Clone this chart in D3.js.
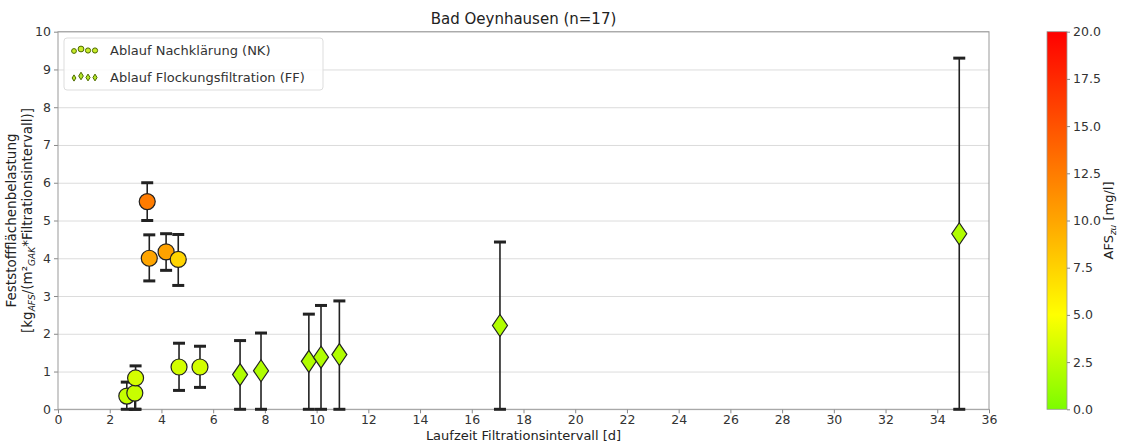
<!DOCTYPE html>
<html>
<head>
<meta charset="utf-8">
<script src="https://cdn.jsdelivr.net/npm/d3@7"></script>
<style>
  body { margin: 0; background: #fff; }
  svg { font-family: "DejaVu Sans", sans-serif; }
</style>
</head>
<body>
<svg id="chart" width="1123" height="442"></svg>
<script>
// Ablauf Nachklärung (NK) - Kreise
const nkX   = [3.45, 3.53, 4.18, 4.65, 4.68, 5.49, 2.66, 2.97, 3.0];
const nkY   = [5.5, 4.0, 4.17, 3.97, 1.12, 1.12, 0.35, 0.43, 0.83];
const nkLo  = [5.0, 3.4, 3.68, 3.28, 0.5, 0.58, 0.0, 0.0, 0.0];
const nkHi  = [6.0, 4.62, 4.65, 4.63, 1.75, 1.67, 0.72, 0.75, 1.15];
const nkAfs = [12.5, 10.0, 10.2, 7.4, 3.3, 3.3, 2.8, 2.9, 3.4];

// Ablauf Flockungsfiltration (FF) - Rauten
const ffX   = [7.04, 7.85, 9.7, 10.17, 10.88, 17.09, 34.85];
const ffY   = [0.92, 1.02, 1.27, 1.38, 1.45, 2.22, 4.65];
const ffLo  = [0, 0, 0, 0, 0, 0, 0];
const ffHi  = [1.82, 2.02, 2.52, 2.75, 2.87, 4.43, 9.3];
const ffAfs = [2.0, 2.0, 2.0, 2.0, 2.0, 2.0, 2.0];

const xTicks  = d3.range(0, 37, 2);
const yTicks  = d3.range(0, 11, 1);
const cbTicks = [0, 2.5, 5, 7.5, 10, 12.5, 15, 17.5, 20];

const svg = d3.select("#chart");
const pLeft = 58, pRight = 989, pTop = 31.7, pBottom = 409.3;

const x = d3.scaleLinear().domain([0, 36]).range([pLeft, pRight]);
const y = d3.scaleLinear().domain([0, 10]).range([pBottom, pTop]);
const color = d3.scaleLinear()
    .domain([0, 5, 10, 20])
    .range(["#7cfc00", "#ffff00", "#ffa500", "#ff0000"]);

// Gitter
svg.append("g")
    .attr("transform", `translate(${pLeft},0)`)
    .call(d3.axisLeft(y).tickValues(yTicks).tickSize(-(pRight - pLeft)).tickFormat(""))
    .call(g => g.selectAll("line").attr("stroke", "#dcdcdc").attr("stroke-width", 1))
    .call(g => g.select(".domain").remove());

// Achsen
const ax = svg.append("g")
    .attr("transform", `translate(0,${pBottom})`)
    .call(d3.axisBottom(x).tickValues(xTicks).tickSize(4).tickPadding(1.5));
const ay = svg.append("g")
    .attr("transform", `translate(${pLeft},0)`)
    .call(d3.axisLeft(y).tickValues(yTicks).tickSize(4).tickPadding(3));
[ax, ay].forEach(a => {
    a.select(".domain").remove();
    a.selectAll("line").attr("stroke", "#888");
    a.selectAll("text").attr("fill", "#333").style("font-size", "12.5px")
        .style("font-family", "DejaVu Sans");
});

// Rahmen
svg.append("rect")
    .attr("x", pLeft).attr("y", pTop)
    .attr("width", pRight - pLeft).attr("height", pBottom - pTop)
    .attr("fill", "none").attr("stroke", "#999").attr("stroke-width", 1);

// Fehlerbalken
function errorBars(xs, los, his) {
    const g = svg.append("g").attr("stroke", "#222");
    xs.forEach((v, i) => {
        g.append("line")
            .attr("x1", x(v)).attr("x2", x(v))
            .attr("y1", y(los[i])).attr("y2", y(his[i]))
            .attr("stroke-width", 1.6);
        [los[i], his[i]].forEach(e => {
            g.append("line")
                .attr("x1", x(v) - 6).attr("x2", x(v) + 6)
                .attr("y1", y(e)).attr("y2", y(e))
                .attr("stroke-width", 3);
        });
    });
}
errorBars(nkX, nkLo, nkHi);
errorBars(ffX, ffLo, ffHi);

// Marker
svg.append("g").selectAll("circle").data(nkX).join("circle")
    .attr("cx", d => x(d))
    .attr("cy", (d, i) => y(nkY[i]))
    .attr("r", 8)
    .attr("fill", (d, i) => color(nkAfs[i]))
    .attr("stroke", "#222").attr("stroke-width", 1.2);

const diamond = (cx, cy, w, h) =>
    `M${cx},${cy - h}L${cx + w},${cy}L${cx},${cy + h}L${cx - w},${cy}Z`;
svg.append("g").selectAll("path").data(ffX).join("path")
    .attr("d", (d, i) => diamond(x(d), y(ffY[i]), 7.5, 11))
    .attr("fill", (d, i) => color(ffAfs[i]))
    .attr("stroke", "#222").attr("stroke-width", 1.2);

// Legende
const lg = svg.append("g");
lg.append("rect")
    .attr("x", 64).attr("y", 38).attr("width", 259).attr("height", 52)
    .attr("rx", 3).attr("fill", "#fff").attr("fill-opacity", 0.85)
    .attr("stroke", "#ddd");
const legItems = [
    { label: "Ablauf Nachklärung (NK)", type: "circle", yy: 50 },
    { label: "Ablauf Flockungsfiltration (FF)", type: "diamond", yy: 77 }
];
const legOffsets = [1, -1, 0.5, 0.5];
const legSizes = [2.4, 2.9, 2.6, 2.6];
legItems.forEach(it => {
    legOffsets.forEach((o, k) => {
        const cx = 74 + k * 7, cy = it.yy + o;
        if (it.type === "circle") {
            lg.append("circle").attr("cx", cx).attr("cy", cy).attr("r", legSizes[k])
                .attr("fill", "#c9ec2a").attr("stroke", "#4d6a00").attr("stroke-width", 1);
        } else {
            lg.append("path").attr("d", diamond(cx, cy, legSizes[k] * 0.8, legSizes[k] * 1.3))
                .attr("fill", "#b4e62a").attr("stroke", "#4d6a00").attr("stroke-width", 1);
        }
    });
    lg.append("text").attr("x", 110).attr("y", it.yy + 4.5)
        .attr("fill", "#333").style("font-size", "13px").text(it.label);
});

// Titel und Achsentitel
svg.append("text").attr("x", (pLeft + pRight) / 2).attr("y", 24)
    .attr("text-anchor", "middle").attr("fill", "#222")
    .style("font-size", "15px").text("Bad Oeynhausen (n=17)");

svg.append("text").attr("x", (pLeft + pRight) / 2).attr("y", 440)
    .attr("text-anchor", "middle").attr("fill", "#222")
    .style("font-size", "13px").text("Laufzeit Filtrationsintervall [d]");

const yl = svg.append("text")
    .attr("transform", `translate(16,${(pTop + pBottom) / 2}) rotate(-90)`)
    .attr("text-anchor", "middle").attr("fill", "#222").style("font-size", "13.5px");
yl.append("tspan").attr("x", 0).attr("dy", 0).text("Feststoffflächenbelastung");
const l2 = svg.append("text")
    .attr("transform", `translate(32,${(pTop + pBottom) / 2}) rotate(-90)`)
    .attr("text-anchor", "middle").attr("fill", "#222").style("font-size", "13.5px");
l2.append("tspan").text("[kg");
l2.append("tspan").attr("dy", 3).style("font-size", "9px").style("font-style", "italic").text("AFS");
l2.append("tspan").attr("dy", -3).text("/(m²");
l2.append("tspan").attr("dy", 3).style("font-size", "9px").style("font-style", "italic").text("GAK");
l2.append("tspan").attr("dy", -3).text("*Filtrationsintervall)]");

// Farbskala
const cbX = 1047, cbW = 20;
const cbScale = d3.scaleLinear().domain([0, 20]).range([pBottom, pTop]);
const defs = svg.append("defs");
const grad = defs.append("linearGradient").attr("id", "cbgrad")
    .attr("x1", 0).attr("y1", 1).attr("x2", 0).attr("y2", 0);
d3.range(0, 21, 1).forEach(v => {
    grad.append("stop").attr("offset", v / 20).attr("stop-color", color(v));
});
svg.append("rect").attr("x", cbX).attr("y", pTop)
    .attr("width", cbW).attr("height", pBottom - pTop)
    .attr("fill", "url(#cbgrad)").attr("stroke", "#999").attr("stroke-width", 0.8);
const cba = svg.append("g").attr("transform", `translate(${cbX + cbW},0)`)
    .call(d3.axisRight(cbScale).tickValues(cbTicks).tickSize(3).tickPadding(3).tickFormat(d3.format(".1f")));
cba.select(".domain").remove();
cba.selectAll("line").attr("stroke", "#888");
cba.selectAll("text").attr("fill", "#333").style("font-size", "12.5px")
    .style("font-family", "DejaVu Sans");

const cl = svg.append("text")
    .attr("transform", `translate(1113,${(pTop + pBottom) / 2}) rotate(-90)`)
    .attr("text-anchor", "middle").attr("fill", "#222").style("font-size", "13px");
cl.append("tspan").text("AFS");
cl.append("tspan").attr("dy", 3).style("font-size", "9px").style("font-style", "italic").text("zu");
cl.append("tspan").attr("dy", -3).text(" [mg/l]");
</script>
</body>
</html>
